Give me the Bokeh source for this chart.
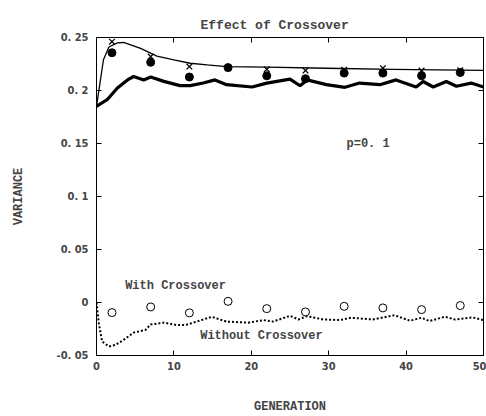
from bokeh.plotting import figure
from bokeh.models import LinearAxis, FixedTicker, Label, CustomJSTickFormatter
from bokeh.embed import file_html
from bokeh.resources import INLINE

# ---- data ----
gen_markers = [2, 7, 12, 17, 22, 27, 32, 37, 42, 47]
cross_y = [0.246, 0.232, 0.2226, 0.221, 0.220, 0.2188, 0.2195, 0.221, 0.2188, 0.219]
dot_y = [0.2356, 0.2266, 0.2127, 0.2216, 0.2139, 0.2111, 0.2164, 0.2164, 0.2139, 0.217]
open_y = [-0.0095, -0.0042, -0.0098, 0.0011, -0.0058, -0.0089, -0.0036, -0.0051, -0.0067, -0.0029]

thin_x = [0, 0.9, 1.6, 2.7, 3.5, 5.7, 7.8, 10, 12.1, 14.3, 16.8, 22, 29.7, 38.3, 50]
thin_y = [0.185, 0.229, 0.241, 0.245, 0.2453, 0.2397, 0.2325, 0.2288, 0.2257, 0.2241,
          0.2226, 0.222, 0.221, 0.220, 0.219]

thick_x = [0, 1.4, 2.7, 4.0, 4.8, 6.1, 7.0, 8.7, 10.8, 12.1, 13.8, 15.3, 16.8, 20.1, 22.0,
           25.0, 26.3, 27.2, 29.7, 32.1, 34.0, 36.6, 38.7, 41.3, 42.2, 43.5, 45.2, 46.5, 48.4, 50]
thick_y = [0.185, 0.1915, 0.2024, 0.210, 0.2132, 0.210, 0.2127, 0.2086, 0.2046, 0.2046,
           0.2071, 0.210, 0.2055, 0.2033, 0.207, 0.2108, 0.2045, 0.210, 0.2055, 0.203,
           0.207, 0.2055, 0.210, 0.2033, 0.2085, 0.2033, 0.2085, 0.204, 0.207, 0.2033]

dotted_x = [0, 0.3, 0.73, 1.6, 2.45, 3.5, 4.8, 6.3, 7.0, 8.7, 10.4, 11.5, 12.5, 14.9, 16.8,
            19.6, 21.6, 22.8, 25.0, 26.1, 27.2, 29.3, 31.4, 32.9, 35.7, 38.5, 40.5, 42.0,
            43.0, 45.0, 46.3, 48.6, 50]
dotted_y = [0, -0.0197, -0.0368, -0.0415, -0.040, -0.0353, -0.0284, -0.026, -0.0207, -0.019,
            -0.0213, -0.0213, -0.019, -0.0135, -0.018, -0.019, -0.0166, -0.018, -0.0126,
            -0.016, -0.0129, -0.016, -0.0166, -0.0144, -0.016, -0.012, -0.0172, -0.0144,
            -0.0175, -0.0135, -0.016, -0.0141, -0.0166]

x_ticks = [0, 10, 20, 30, 40, 50]
y_ticks = [-0.05, 0, 0.05, 0.1, 0.15, 0.2, 0.25]
y_tick_labels = ["-0. 05", "0", "0. 05", "0. 1", "0. 15", "0. 2", "0. 25"]

MONO = "'Liberation Mono', 'DejaVu Sans Mono', monospace"
NARROW = "'Liberation Sans Narrow', 'DejaVu Sans Condensed', 'Liberation Mono', monospace"

p = figure(width=486, height=416, x_range=(0, 50), y_range=(-0.05, 0.25),
           output_backend="svg", toolbar_location=None,
           x_axis_type=None, y_axis_type=None,
           min_border_left=96, min_border_right=3, min_border_top=37, min_border_bottom=57,
           title="Effect of Crossover")
p.grid.visible = False
p.outline_line_color = "black"
p.outline_line_width = 1
p.background_fill_color = "white"
p.border_fill_color = "white"

p.title.text_font = MONO
p.title.text_font_size = "13px"
p.title.text_font_style = "bold"
p.title.align = "left"
p.title.offset = 104
p.title.standoff = 10

def style_axis(ax, show_labels):
    ax.axis_line_color = "black"
    ax.major_tick_in = 5
    ax.major_tick_out = 0
    ax.minor_tick_in = 0
    ax.minor_tick_out = 0
    ax.major_tick_line_color = "black"
    ax.major_label_text_font = NARROW
    ax.major_label_text_font_style = "bold"
    ax.major_label_text_font_size = "11px"
    if not show_labels:
        ax.formatter = CustomJSTickFormatter(code="return ''")
        ax.major_label_standoff = 0

xb = LinearAxis(ticker=FixedTicker(ticks=x_ticks), axis_label="GENERATION")
style_axis(xb, True)
xb.major_label_standoff = 6
xb.axis_label_text_font = MONO
xb.axis_label_text_font_style = "bold"
xb.axis_label_text_font_size = "12px"
xb.axis_label_standoff = 27
p.add_layout(xb, "below")

yl = LinearAxis(ticker=FixedTicker(ticks=y_ticks), axis_label="VARIANCE")
style_axis(yl, True)
yl.major_label_overrides = {t: s for t, s in zip(y_ticks, y_tick_labels)}
yl.major_label_standoff = 8
yl.axis_label_text_font = MONO
yl.axis_label_text_font_style = "bold"
yl.axis_label_text_font_size = "12px"
yl.axis_label_standoff = 28
p.add_layout(yl, "left")

xt = LinearAxis(ticker=FixedTicker(ticks=[10, 20, 30, 40]))
style_axis(xt, False)
p.add_layout(xt, "above")

yr = LinearAxis(ticker=FixedTicker(ticks=y_ticks))
style_axis(yr, False)
p.add_layout(yr, "right")

# lines
p.line(thin_x, thin_y, line_color="black", line_width=1.3)
p.line(thick_x, thick_y, line_color="black", line_width=3.2)
p.line(dotted_x, dotted_y, line_color="black", line_width=2, line_dash="2 2")

# markers
p.scatter(gen_markers, cross_y, marker="x", size=8, line_color="black", line_width=1.3)
p.scatter(gen_markers, dot_y, marker="circle", size=8, fill_color="black", line_color="black")
p.scatter(gen_markers, open_y, marker="circle", size=8, fill_color="white",
          line_color="black", line_width=1)

# annotations
for x, y, t in [(3.7, 0.0154, "With Crossover"),
                (13.4, -0.032, "Without Crossover"),
                (32.3, 0.1496, "p=0. 1")]:
    p.add_layout(Label(x=x, y=y, text=t, text_font=MONO, text_font_style="bold",
                       text_font_size="12px", text_baseline="middle", text_align="left"))

open("out.html", "w").write(file_html(p, INLINE))
